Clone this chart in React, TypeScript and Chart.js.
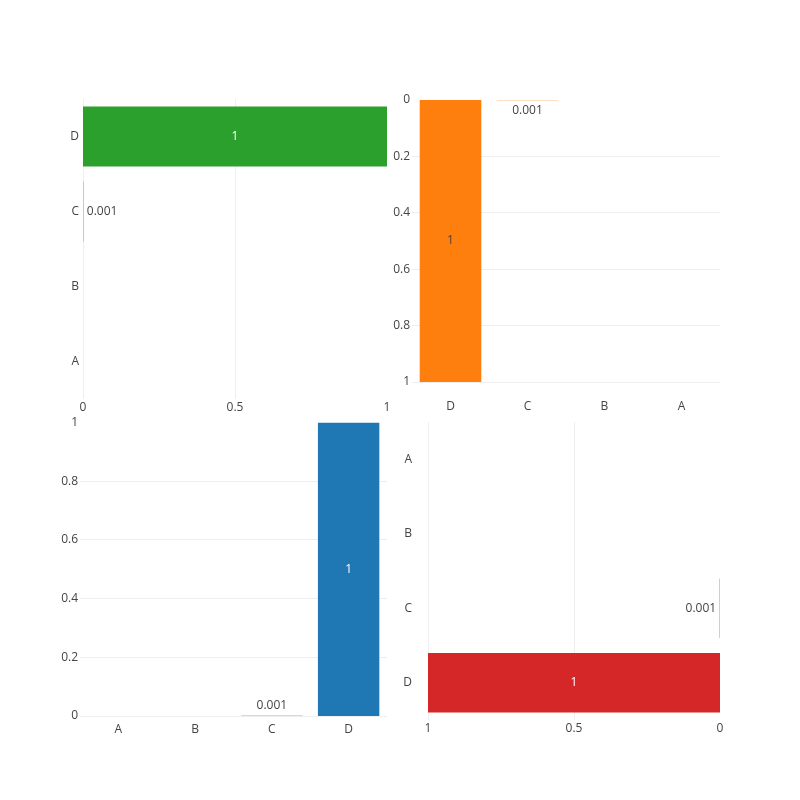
import React, { useEffect, useRef } from 'react';
import { Chart, registerables } from 'chart.js';
Chart.register(...registerables);

const categories = ['A', 'B', 'C', 'D'];
const greenValues: (number | null)[] = [null, null, 0.001, 1];
const orangeValues: (number | null)[] = [null, null, 0.001, 1];
const blueValues: (number | null)[] = [null, null, 0.001, 1];
const redValues: (number | null)[] = [null, null, 0.001, 1];
const halfTicks = [0, 0.5, 1];
const fifthTicks = [0, 0.2, 0.4, 0.6, 0.8, 1];

const FONT = '"Open Sans", sans-serif';
const TICK_COLOR = '#444444';
const GRID_COLOR = '#eeeeee';

type Panel = {
  values: (number | null)[];
  color: string;
  insideText: string;
  horizontal: boolean;
  catReverse: boolean;
  valReverse: boolean;
  valueTicks: number[];
  hideGrid: number;
  plot: { l: number; t: number; r: number; b: number };
  yPad: number;
  xPad: number;
};

const panels: Panel[] = [
  {
    values: greenValues, color: '#2ca02c', insideText: '#ffffff', horizontal: true,
    catReverse: true, valReverse: false, valueTicks: halfTicks, hideGrid: 1,
    plot: { l: 83, t: 99, r: 387, b: 399 }, yPad: 4, xPad: 1,
  },
  {
    values: orangeValues, color: '#ff7f0e', insideText: '#444444', horizontal: false,
    catReverse: true, valReverse: true, valueTicks: fifthTicks, hideGrid: 0,
    plot: { l: 412, t: 100, r: 720, b: 382 }, yPad: 2, xPad: 17,
  },
  {
    values: blueValues, color: '#1f77b4', insideText: '#ffffff', horizontal: false,
    catReverse: false, valReverse: false, valueTicks: fifthTicks, hideGrid: 1,
    plot: { l: 80, t: 422.5, r: 387, b: 716 }, yPad: 2, xPad: 6,
  },
  {
    values: redValues, color: '#d62728', insideText: '#ffffff', horizontal: true,
    catReverse: false, valReverse: true, valueTicks: halfTicks, hideGrid: 0,
    plot: { l: 428, t: 422, r: 720, b: 720 }, yPad: 16, xPad: 1,
  },
];

const Y_W = 40;
const X_H = 30;

const alignPx = (px: number) => Math.round(px - 0.5) + 0.5;

const labelPlugin = (p: Panel) => ({
  id: 'barLabels',
  beforeDatasetsDraw(chart: any) {
    // zero gridline drawn here so bars are not shifted off the base line
    if (p.hideGrid === 0) return;
    const ctx = chart.ctx;
    const area = chart.chartArea;
    const vScale = p.horizontal ? chart.scales.x : chart.scales.y;
    const px = alignPx(vScale.getPixelForValue(0));
    ctx.save();
    ctx.strokeStyle = GRID_COLOR;
    ctx.lineWidth = 1;
    ctx.beginPath();
    if (p.horizontal) {
      ctx.moveTo(px, area.top);
      ctx.lineTo(px, area.bottom);
    } else {
      ctx.moveTo(area.left, px);
      ctx.lineTo(area.right, px);
    }
    ctx.stroke();
    ctx.restore();
  },
  afterDatasetsDraw(chart: any) {
    const ctx = chart.ctx;
    const meta = chart.getDatasetMeta(0);
    const data = chart.data.datasets[0].data;
    const vScale = p.horizontal ? chart.scales.x : chart.scales.y;
    ctx.save();
    ctx.font = `12px ${FONT}`;
    meta.data.forEach((el: any, i: number) => {
      const v = data[i];
      if (v == null) return;
      const { x, y } = el.getProps(['x', 'y'], true);
      const base = vScale.getPixelForValue(0);
      const end = vScale.getPixelForValue(v);
      const text = String(v);
      const tw = ctx.measureText(text).width;
      const len = Math.abs(end - base);
      let dir: number;
      if (p.horizontal) {
        dir = (p.valReverse ? -1 : 1) * (v >= 0 ? 1 : -1);
      } else {
        dir = (p.valReverse ? 1 : -1) * (v >= 0 ? 1 : -1);
      }
      ctx.textBaseline = 'middle';
      if (p.horizontal) {
        if (len >= tw + 8) {
          ctx.fillStyle = p.insideText;
          ctx.textAlign = 'center';
          ctx.fillText(text, (end + base) / 2, y);
        } else {
          ctx.fillStyle = TICK_COLOR;
          ctx.textAlign = dir > 0 ? 'left' : 'right';
          ctx.fillText(text, end + dir * 3.5, y);
        }
      } else {
        if (len >= 20) {
          ctx.fillStyle = p.insideText;
          ctx.textAlign = 'center';
          ctx.fillText(text, x, (end + base) / 2);
        } else {
          ctx.fillStyle = TICK_COLOR;
          ctx.textAlign = 'center';
          ctx.fillText(text, x, end + dir * 10.5);
        }
      }
    });
    ctx.restore();
  },
});

function makeConfig(p: Panel): any {
  const valueScale: any = {
    type: 'linear',
    min: 0,
    max: 1,
    reverse: p.valReverse,
    afterBuildTicks: (s: any) => {
      s.ticks = p.valueTicks.map((v) => ({ value: v }));
    },
    grid: {
      color: (c: any) =>
        c.tick && (c.tick.value === p.hideGrid || c.tick.value === 0) ? 'rgba(0,0,0,0)' : GRID_COLOR,
      lineWidth: (c: any) => (c.tick && c.tick.value === 0 ? 0 : 1),
      drawTicks: false,
    },
    border: { display: false },
    ticks: {
      callback: (v: any) => String(v),
      font: { family: FONT, size: 12 },
      color: TICK_COLOR,
      maxRotation: 0,
    },
  };
  const catScale: any = {
    type: 'category',
    labels: categories,
    reverse: p.catReverse,
    offset: true,
    grid: { display: false, drawTicks: false },
    border: { display: false },
    ticks: {
      autoSkip: false,
      font: { family: FONT, size: 12 },
      color: TICK_COLOR,
      maxRotation: 0,
    },
  };
  const xScale = p.horizontal ? valueScale : catScale;
  const yScale = p.horizontal ? catScale : valueScale;
  xScale.position = 'bottom';
  yScale.position = 'left';
  xScale.ticks.padding = p.xPad;
  yScale.ticks.padding = p.yPad;
  xScale.afterFit = (s: any) => {
    s.height = X_H;
  };
  yScale.afterFit = (s: any) => {
    s.width = Y_W;
  };
  return {
    type: 'bar',
    data: {
      labels: categories,
      datasets: [
        {
          data: p.values,
          backgroundColor: p.color,
          borderWidth: 0,
          categoryPercentage: 1,
          barPercentage: 0.8,
        },
      ],
    },
    options: {
      indexAxis: p.horizontal ? 'y' : 'x',
      animation: false,
      responsive: false,
      maintainAspectRatio: false,
      devicePixelRatio: 1,
      layout: {
        padding: {
          left: p.plot.l - Y_W,
          top: p.plot.t,
          right: 800 - p.plot.r,
          bottom: 800 - p.plot.b - X_H,
        },
      },
      plugins: {
        legend: { display: false },
        tooltip: { enabled: false },
        title: { display: false },
      },
      scales: { x: xScale, y: yScale },
    },
    plugins: [labelPlugin(p)],
  };
}

function PanelChart({ panel }: { panel: Panel }) {
  const ref = useRef<HTMLCanvasElement | null>(null);
  useEffect(() => {
    if (!ref.current) return;
    const chart = new Chart(ref.current, makeConfig(panel));
    return () => chart.destroy();
  }, [panel]);
  return (
    <canvas
      ref={ref}
      width={800}
      height={800}
      style={{ position: 'absolute', left: 0, top: 0, width: 800, height: 800 }}
    />
  );
}

export default function App() {
  return (
    <div
      style={{
        position: 'fixed',
        left: 0,
        top: 0,
        width: 800,
        height: 800,
        background: '#ffffff',
      }}
    >
      {panels.map((p, i) => (
        <PanelChart key={i} panel={p} />
      ))}
    </div>
  );
}
